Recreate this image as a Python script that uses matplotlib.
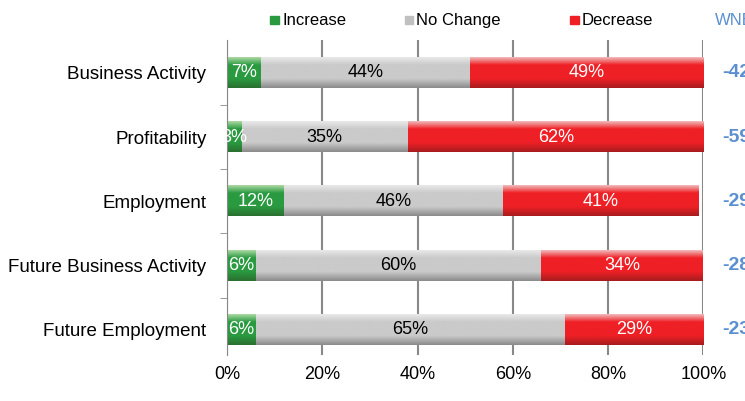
import numpy as np
import matplotlib.pyplot as plt
import matplotlib.transforms as mtransforms
from matplotlib.colors import LinearSegmentedColormap

plt.rcParams['font.family'] = ['Liberation Sans', 'DejaVu Sans']

categories = ['Business Activity', 'Profitability', 'Employment',
              'Future Business Activity', 'Future Employment']
increase = [7, 3, 12, 6, 6]
no_change = [44, 35, 46, 60, 65]
decrease = [49, 62, 41, 34, 29]
wnb = [-42, -59, -29, -28, -23]

fig = plt.figure(figsize=(7.45, 4.01), dpi=100)
ax = fig.add_axes([0.305, 0.115, 0.639, 0.785])

H = 0.47
# gradient: light top -> base -> darker bottom
def grad_cmap(light, mid, dark):
    return LinearSegmentedColormap.from_list('g', [(0, light), (0.25, mid), (0.7, mid), (1, dark)])

cmaps = [grad_cmap('#a8d8a0', '#2a9a40', '#2a7030'),
         grad_cmap('#e8e8e8', '#cacaca', '#8c8c8c'),
         grad_cmap('#f2b8b8', '#ee2026', '#a81c1e')]
grad = np.linspace(0, 1, 50).reshape(-1, 1)

trans = mtransforms.blended_transform_factory(fig.transFigure, ax.transData)

for i in range(len(categories)):
    left = 0
    for j, vals in enumerate([increase, no_change, decrease]):
        v = vals[i]
        ax.imshow(grad, cmap=cmaps[j], aspect='auto', interpolation='bilinear',
                  extent=[left, left + v, i + H / 2, i - H / 2], zorder=2)
        col = 'black' if j == 1 else 'white'
        ax.text(left + v / 2, i, f'{v}%', ha='center', va='center',
                fontsize=13, color=col, zorder=3)
        left += v
    ax.text(0.97, i, str(wnb[i]), transform=trans, clip_on=False,
            color='#5b8fd0', fontsize=14, fontweight='bold', va='center', ha='left')

ax.set_xlim(0, 100)
ax.set_ylim(4.39, -0.51)
ax.set_yticks(range(len(categories)))
ax.set_yticklabels(categories, fontsize=13.5)
ax.set_xticks(range(0, 101, 20))
ax.set_xticklabels([f'{x}%' for x in range(0, 101, 20)], fontsize=13)
ax.grid(axis='x', color='#888888', linewidth=1.5, zorder=0)
for s in ['top', 'right', 'bottom']:
    ax.spines[s].set_visible(False)
ax.spines['left'].set_color('#888888')
ax.tick_params(axis='y', length=0, pad=15)
ax.tick_params(axis='x', length=0, pad=8)
ax.set_yticks(np.arange(0.5, 4.5, 1), minor=True)
ax.tick_params(axis='y', which='minor', length=5, color='#888888')

# legend
legend_items = [('Increase', '#2a9a40', 0.363), ('No Change', '#c0c0c0', 0.543),
                ('Decrease', '#ee2026', 0.765)]
for label, c, x in legend_items:
    fig.patches.append(plt.Rectangle((x, 0.939), 0.012, 0.022, color=c,
                                     transform=fig.transFigure, figure=fig))
    fig.text(x + 0.016, 0.95, label, fontsize=12, va='center')
fig.text(0.96, 0.95, 'WNB', fontsize=12, va='center', color='#5b8fd0')

fig.savefig('out.png', dpi=100)
